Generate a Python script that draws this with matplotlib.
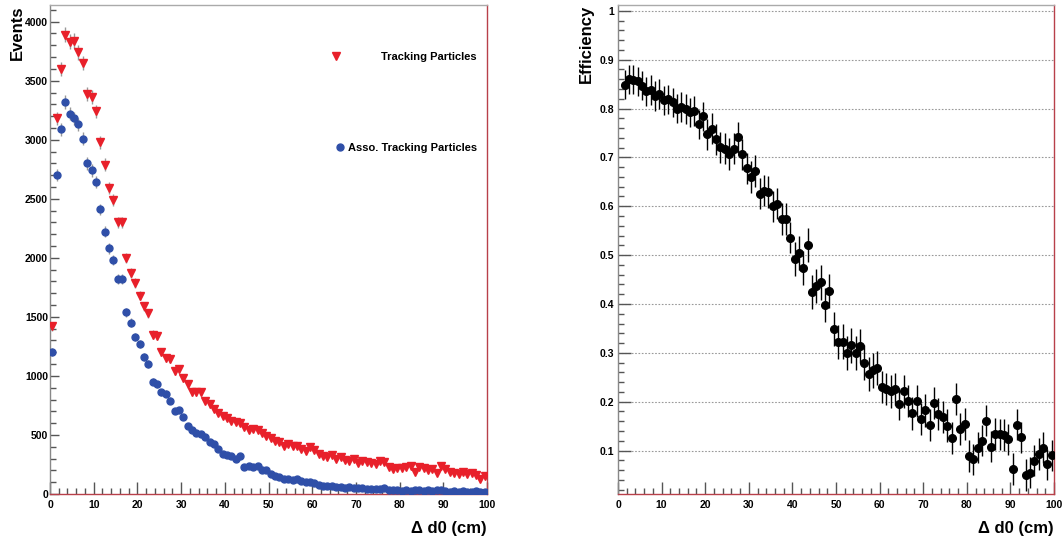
import numpy as np
import matplotlib
matplotlib.use("Agg")
import matplotlib.pyplot as plt
from matplotlib.ticker import MultipleLocator, FixedLocator

plt.rcParams['font.family'] = ['Liberation Sans', 'DejaVu Sans']
plt.rcParams['font.weight'] = 'bold'

# bin centres, 1 cm wide bins from 0 to 100
centres = np.arange(100) + 0.5

# Tracking Particles (events per bin)
tracking = [
    1420, 3180, 3600, 3890, 3830, 3840, 3740, 3650, 3390, 3360,
    3240, 2980, 2790, 2590, 2490, 2300, 2300, 2000, 1870, 1790,
    1680, 1590, 1530, 1350, 1340, 1200, 1150, 1140, 1040, 1060,
    980, 930, 860, 860, 860, 790, 760, 720, 690, 660,
    640, 620, 610, 600, 570, 540, 550, 540, 520, 490,
    470, 450, 440, 410, 420, 410, 410, 380, 360, 400,
    370, 340, 320, 310, 330, 300, 310, 290, 280, 300,
    260, 280, 270, 260, 250, 280, 270, 230, 210, 220,
    220, 230, 240, 190, 230, 220, 200, 210, 180, 240,
    210, 190, 180, 170, 190, 170, 180, 160, 130, 150,
]

# Associated Tracking Particles
asso = [
    1200, 2700, 3090, 3320, 3220, 3180, 3130, 3010, 2800, 2740,
    2640, 2410, 2220, 2080, 1980, 1820, 1820, 1540, 1450, 1330,
    1270, 1160, 1100, 950, 930, 860, 850, 790, 700, 710,
    650, 580, 540, 520, 510, 480, 440, 420, 380, 340,
    330, 320, 300, 320, 230, 240, 230, 240, 200, 200,
    170, 150, 140, 130, 130, 120, 130, 110, 100, 100,
    90, 80, 70, 70, 70, 60, 60, 55, 60, 55,
    55, 50, 45, 45, 45, 40, 50, 35, 30, 30,
    25, 30, 25, 30, 35, 25, 30, 25, 30, 30,
    25, 20, 25, 20, 25, 20, 20, 25, 20, 20,
]

# Efficiency per bin (first bin not drawn as a point)
efficiency = [
    np.nan, 0.849, 0.860, 0.859, 0.856, 0.847, 0.835, 0.838, 0.826, 0.830,
    0.817, 0.819, 0.813, 0.800, 0.803, 0.799, 0.792, 0.795, 0.768, 0.784,
    0.747, 0.759, 0.737, 0.721, 0.718, 0.707, 0.718, 0.741, 0.706, 0.678,
    0.660, 0.672, 0.626, 0.632, 0.629, 0.600, 0.605, 0.574, 0.574, 0.536,
    0.492, 0.504, 0.474, 0.520, 0.425, 0.436, 0.444, 0.398, 0.426, 0.348,
    0.322, 0.323, 0.299, 0.315, 0.300, 0.314, 0.280, 0.257, 0.264, 0.269,
    0.230, 0.226, 0.221, 0.226, 0.195, 0.221, 0.202, 0.176, 0.202, 0.164,
    0.182, 0.153, 0.197, 0.175, 0.168, 0.151, 0.125, 0.206, 0.144, 0.155,
    0.089, 0.082, 0.106, 0.120, 0.161, 0.108, 0.134, 0.133, 0.132, 0.123,
    0.062, 0.153, 0.127, 0.050, 0.055, 0.079, 0.093, 0.106, 0.072, 0.090,
]

eff_err = (
    [0.03] * 20 + [0.032] * 20 + [0.035] * 20 + [0.033] * 20 + [0.032] * 20
)

RED = '#e8202a'
BLUE = '#2f4fa8'
AXRED = '#b8404a'
TICKC = '#555555'

fig = plt.figure(figsize=(10.62, 5.44), dpi=100)
ax1 = fig.add_axes([50 / 1062, 50 / 544, 437 / 1062, 489 / 544])
ax2 = fig.add_axes([618 / 1062, 50 / 544, 436 / 1062, 489 / 544])


def style_axes(ax):
    ax.spines['left'].set_color('#888888')
    ax.spines['top'].set_color('#aaaaaa')
    ax.spines['right'].set_color(AXRED)
    ax.spines['bottom'].set_color(AXRED)
    for s in ax.spines.values():
        s.set_linewidth(1.0)
    ax.set_xlim(0, 100)
    ax.xaxis.set_major_locator(MultipleLocator(10))
    ax.xaxis.set_minor_locator(MultipleLocator(2))
    ax.tick_params(axis='both', which='both', direction='in', color=TICKC,
                   width=1, labelsize=7.5, top=False, right=False)
    ax.tick_params(axis='x', which='major', length=9, pad=4)
    ax.tick_params(axis='x', which='minor', length=4.5)
    for lab in ax.get_xticklabels() + ax.get_yticklabels():
        lab.set_fontweight('bold')
    ax.set_xlabel('Δ d0 (cm)', fontsize=12, fontweight='bold', loc='right', labelpad=8)


# left: event counts
err_t = np.sqrt(tracking)
err_a = np.sqrt(asso)
ax1.errorbar(centres, tracking, yerr=err_t, fmt='v', color=RED, ms=6,
             ecolor='#999999', elinewidth=1, capsize=0, zorder=3)
ax1.errorbar(centres, asso, yerr=err_a, fmt='o', color=BLUE, ms=5,
             ecolor='#999999', elinewidth=1, capsize=0, zorder=3)
ax1.set_ylim(0, 4141)
ax1.yaxis.set_major_locator(MultipleLocator(500))
ax1.yaxis.set_minor_locator(MultipleLocator(100))
style_axes(ax1)
ax1.tick_params(axis='y', which='major', length=6.5, pad=1.5)
ax1.tick_params(axis='y', which='minor', length=4)
ax1.set_ylabel('Events', fontsize=12, fontweight='bold', loc='top', labelpad=0)

h_t, = ax1.plot([], [], 'v', color=RED, ms=6)
h_a, = ax1.plot([], [], 'o', color=BLUE, ms=5)
leg1 = ax1.legend([h_t], ['Tracking Particles'], loc='center right',
                  bbox_to_anchor=(0.977, 0.894), frameon=False, numpoints=1,
                  handlelength=1.0, handletextpad=3.6, borderpad=0, borderaxespad=0,
                  prop={'size': 8, 'weight': 'bold'})
ax1.add_artist(leg1)
ax1.legend([h_a], ['Asso. Tracking Particles'], loc='center right',
           bbox_to_anchor=(0.977, 0.708), frameon=False, numpoints=1,
           handlelength=1.0, handletextpad=0.2, borderpad=0, borderaxespad=0,
           prop={'size': 8, 'weight': 'bold'})

# right: efficiency
ax2.errorbar(centres, efficiency, yerr=eff_err, xerr=0.5, fmt='o', color='black',
             ms=5.5, ecolor='black', elinewidth=1, capsize=0, zorder=3)
ax2.set_ylim(0.011, 1.012)
ax2.yaxis.set_major_locator(FixedLocator(np.arange(1, 11) / 10))
ax2.yaxis.set_minor_locator(MultipleLocator(0.02))
ax2.yaxis.set_major_formatter(plt.FuncFormatter(lambda v, p: f'{v:g}'))
style_axes(ax2)
ax2.tick_params(axis='y', which='major', length=9, pad=3)
ax2.tick_params(axis='y', which='minor', length=4.5)
ax2.grid(axis='y', which='major', color='#999999', linestyle=(0, (1.5, 1.5)), linewidth=0.8)
ax2.set_ylabel('Efficiency', fontsize=12, fontweight='bold', loc='top', labelpad=4)

fig.savefig('out.png', dpi=100)
